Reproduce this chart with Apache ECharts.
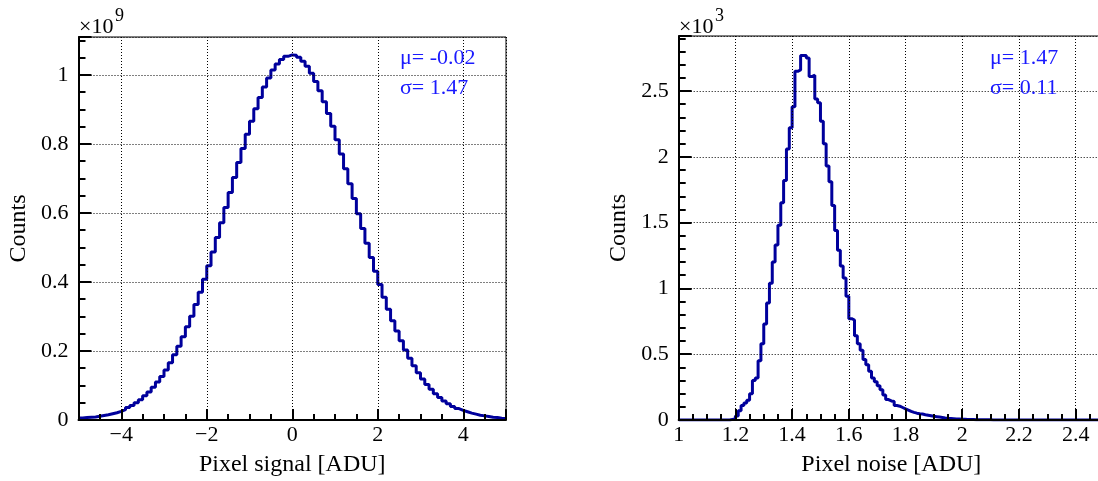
<!DOCTYPE html>
<html><head><meta charset="utf-8">
<script src="https://cdn.jsdelivr.net/npm/echarts@6/dist/echarts.min.js"></script>
<style>html,body{margin:0;padding:0;background:#fff}#wrap{position:relative;width:1098px;height:481px}
#data,#axes{position:absolute;left:0;top:0;width:1098px;height:481px}</style>
</head><body><div id="wrap"><div id="data"></div><div id="axes"></div></div><script>
// ---- data (left: units of 1e9 counts, right: units of 1e3 counts) ----
const leftBinStart = -5, leftBinWidth = 0.1;
const leftCounts = [
 0.006,0.007,0.008,0.009,0.011,0.013,0.015,0.018,0.021,0.025,
 0.030,0.036,0.042,0.050,0.059,0.070,0.081,0.095,0.110,0.126,
 0.145,0.166,0.189,0.214,0.241,0.270,0.301,0.335,0.370,0.408,
 0.447,0.487,0.529,0.572,0.616,0.659,0.703,0.746,0.787,0.828,
 0.866,0.902,0.935,0.965,0.991,1.014,1.032,1.045,1.054,1.058,
 1.057,1.051,1.040,1.025,1.005,0.981,0.954,0.922,0.888,0.851,
 0.812,0.771,0.728,0.685,0.642,0.598,0.555,0.512,0.471,0.431,
 0.393,0.356,0.321,0.288,0.258,0.230,0.203,0.179,0.157,0.137,
 0.119,0.103,0.089,0.076,0.065,0.055,0.047,0.039,0.033,0.028,
 0.024,0.020,0.017,0.014,0.012,0.010,0.008,0.007,0.005,0.004
];
const rightBinStart = 1.0, rightBinWidth = 0.01;
const rightCounts = [
 0,0,0,0,0,0,0,0,0,0,
 0,0,0,0,0,0,0,0,0.005,0.01,
 0.03,0.07,0.11,0.13,0.15,0.20,0.30,0.32,0.45,0.58,
 0.73,0.89,1.04,1.20,1.33,1.48,1.65,1.82,2.06,2.22,
 2.38,2.65,2.66,2.77,2.77,2.75,2.61,2.62,2.44,2.41,
 2.27,2.10,1.93,1.81,1.63,1.44,1.29,1.17,1.08,0.94,
 0.77,0.76,0.64,0.58,0.53,0.46,0.42,0.37,0.32,0.29,
 0.26,0.23,0.19,0.155,0.145,0.14,0.11,0.105,0.095,0.085,
 0.075,0.065,0.058,0.052,0.048,0.045,0.040,0.036,0.032,0.028,
 0.025,0.022,0.019,0.016,0.014,0.012,0.010,0.008,0.007,0.006,
 0.005,0.004,0.003,0.003,0.002,0.002,0.001,0.001,0.001,0.001,
 0,0,0,0,0,0,0,0,0,0,
 0,0,0,0,0,0,0,0,0,0,
 0,0,0,0,0,0,0,0,0,0,
 0,0,0,0,0,0,0,0,0,0
];
const leftXName = 'Pixel signal [ADU]';
const rightXName = 'Pixel noise [ADU]';
const yName = 'Counts';
const leftExponent = '9', rightExponent = '3';
const leftStats = ['μ= -0.02', 'σ= 1.47'];
const rightStats = ['μ= 1.47', 'σ= 0.11'];

// ---- build step polyline points at bin edges ----
function stepPoints(start, w, counts) {
  const pts = counts.map((v, i) => [+(start + i * w).toFixed(4), v]);
  pts.push([+(start + counts.length * w).toFixed(4), counts[counts.length - 1]]);
  return pts;
}

const F = '"Liberation Serif", "Times New Roman", serif';
const BLACK = '#000';
const LINE = '#00009c';
const STAT = '#1a1aff';

const grids = (show) => [
  { left: 78.5, top: 37, width: 427.5, height: 383, show, borderColor: BLACK, borderWidth: 1, outerBoundsMode: 'none', containLabel: false },
  { left: 678.7, top: 36, width: 425.3, height: 384, show, borderColor: BLACK, borderWidth: 1, outerBoundsMode: 'none', containLabel: false }
];
const xSpec = [
  { gi: 0, min: -5, max: 5, interval: null, name: leftXName, showMin: false },
  { gi: 1, min: 1, max: 2.5, interval: 0.2, name: rightXName, showMin: true }
];
const ySpec = [
  { gi: 0, max: 1.11, interval: 0.2, minor: 4 },
  { gi: 1, max: 2.918, interval: 0.5, minor: 5 }
];

function xAx(s, visible) {
  const ax = {
    type: 'value', gridIndex: s.gi, min: s.min, max: s.max, show: visible,
    name: visible ? s.name : '', nameLocation: 'middle', nameGap: 33,
    nameTextStyle: { fontFamily: F, fontSize: 24, color: BLACK },
    axisLine: { show: true, onZero: false, lineStyle: { color: BLACK, width: 2 } },
    axisTick: { show: true, inside: true, length: 11, lineStyle: { color: BLACK, width: 2 } },
    minorTick: { show: true, splitNumber: 4, length: 6, lineStyle: { color: BLACK, width: 2 } },
    axisLabel: { fontFamily: F, fontSize: 22, color: BLACK, margin: 4, showMinLabel: s.showMin, showMaxLabel: false,
      formatter: v => String(v).replace('-', '\u2212') },
    splitLine: { show: true, lineStyle: { color: BLACK, type: [1, 2], width: 1 } }
  };
  if (s.interval) ax.interval = s.interval; else ax.splitNumber = 5;
  return ax;
}
function yAx(s, visible) {
  return {
    type: 'value', gridIndex: s.gi, min: 0, max: s.max, interval: s.interval, show: visible,
    name: visible ? yName : '', nameLocation: 'middle', nameGap: 48,
    nameTextStyle: { fontFamily: F, fontSize: 24, color: BLACK },
    axisLine: { show: true, onZero: false, lineStyle: { color: BLACK, width: 2 } },
    axisTick: { show: true, inside: true, length: 13, lineStyle: { color: BLACK, width: 2 } },
    minorTick: { show: true, splitNumber: s.minor, length: 7, lineStyle: { color: BLACK, width: 2 } },
    axisLabel: { fontFamily: F, fontSize: 22, color: BLACK, margin: 10, showMaxLabel: false },
    splitLine: { show: true, lineStyle: { color: BLACK, type: [1, 2], width: 1 } }
  };
}
const txt = (x, y, t, size, color) => ({ text: t, left: x, top: y, padding: 0,
  textStyle: { fontFamily: F, fontSize: size, fontWeight: 'normal', color } });

// bottom layer: the histograms on hidden (identical) axes
const dataChart = echarts.init(document.getElementById('data'));
dataChart.setOption({
  animation: false,
  backgroundColor: '#fff',
  grid: grids(false),
  xAxis: xSpec.map(s => xAx(s, false)),
  yAxis: ySpec.map(s => yAx(s, false)),
  series: [
    { type: 'line', xAxisIndex: 0, yAxisIndex: 0, step: 'end', showSymbol: false, symbol: 'none',
      data: stepPoints(leftBinStart, leftBinWidth, leftCounts), lineStyle: { color: LINE, width: 3 } },
    { type: 'line', xAxisIndex: 1, yAxisIndex: 1, step: 'end', showSymbol: false, symbol: 'none',
      data: stepPoints(rightBinStart, rightBinWidth, rightCounts), lineStyle: { color: LINE, width: 3 } }
  ]
});

// top layer: frames, axes, ticks, grid lines and texts
const axesChart = echarts.init(document.getElementById('axes'));
axesChart.setOption({
  animation: false,
  backgroundColor: 'transparent',
  title: [
    txt(79, 16, '×10', 22, BLACK), txt(115, 7, leftExponent, 18, BLACK),
    txt(679, 16, '×10', 22, BLACK), txt(715, 7, rightExponent, 18, BLACK),
    txt(400, 47, leftStats[0], 22, STAT), txt(400, 77, leftStats[1], 22, STAT),
    txt(990, 47, rightStats[0], 22, STAT), txt(990, 77, rightStats[1], 22, STAT)
  ],
  grid: grids(true),
  xAxis: xSpec.map(s => xAx(s, true)),
  yAxis: ySpec.map(s => yAx(s, true)),
  series: []
});
</script></body></html>
